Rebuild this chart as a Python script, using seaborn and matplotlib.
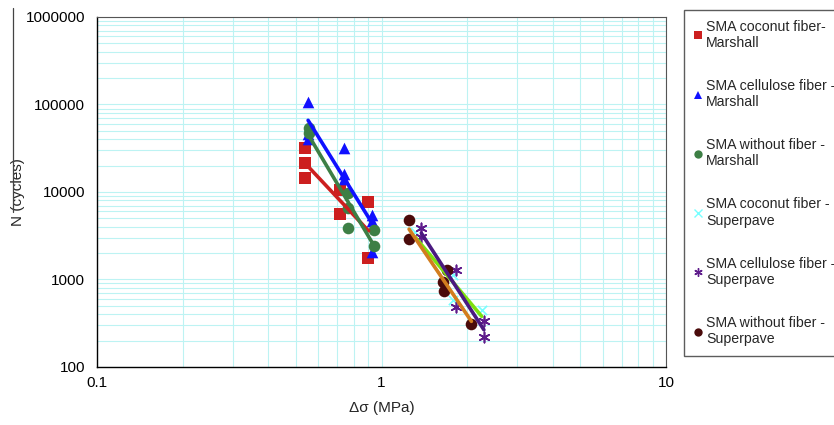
import numpy as np
import pandas as pd
import matplotlib
matplotlib.use("Agg")
import matplotlib.pyplot as plt
from matplotlib.lines import Line2D
from matplotlib.ticker import LogLocator, FixedLocator, FixedFormatter, NullFormatter
import seaborn as sns

# Data (stress range in MPa, N in cycles)
coco_marshall_x = [0.54, 0.54, 0.54, 0.715, 0.715, 0.90, 0.90]
coco_marshall_n = [31800, 21400, 14400, 10500, 5600, 7700, 1760]

cell_marshall_x = [0.552, 0.552, 0.552, 0.74, 0.74, 0.74, 0.926, 0.926, 0.926]
cell_marshall_n = [106000, 46000, 40000, 31500, 16000, 14000, 5400, 4700, 2050]

none_marshall_x = [0.555, 0.555, 0.76, 0.76, 0.76, 0.94, 0.94]
none_marshall_n = [54000, 47000, 9800, 6600, 3900, 3700, 2400]

coco_super_x = [1.31, 1.78, 1.78, 2.25]
coco_super_n = [3490, 1125, 583, 448]

cell_super_x = [1.38, 1.38, 1.83, 1.83, 2.29, 2.29]
cell_super_n = [3880, 3060, 1285, 486, 336, 220]

none_super_x = [1.25, 1.25, 1.70, 1.65, 1.66, 2.07]
none_super_n = [4790, 2900, 1285, 936, 740, 310]

labels = [
    "SMA coconut fiber-\nMarshall",
    "SMA cellulose fiber -\nMarshall",
    "SMA without fiber -\nMarshall",
    "SMA coconut fiber -\nSuperpave",
    "SMA cellulose fiber -\nSuperpave",
    "SMA without fiber -\nSuperpave",
]

series = [
    (coco_marshall_x, coco_marshall_n),
    (cell_marshall_x, cell_marshall_n),
    (none_marshall_x, none_marshall_n),
    (coco_super_x, coco_super_n),
    (cell_super_x, cell_super_n),
    (none_super_x, none_super_n),
]

# styling
marker_colors = ["#cc1f1f", "#1010ff", "#3d7f45", "#77ffff", "#5e1b8b", "#4a0b0b"]
line_colors = ["#cc1f1f", "#1010ff", "#3d7f45", "#7ee00f", "#4b1a80", "#d27d1e"]
markers = ["s", "^", "o", "x", (6, 2, 0), "o"]
sizes = [70, 70, 70, 45, 55, 70]

sns.set_style("white")
plt.rcParams["font.family"] = ["Liberation Sans", "DejaVu Sans"]

fig = plt.figure(figsize=(8.34, 4.25), dpi=100)
ax = fig.add_axes([0.1163, 0.1365, 0.6823, 0.8235])

handles = []
for i, (xs, ns) in enumerate(series):
    df = pd.DataFrame({"x": xs, "n": ns})
    sns.scatterplot(data=df, x="x", y="n", ax=ax, color=marker_colors[i],
                    marker=markers[i], s=sizes[i], linewidth=1.2 if i in (3, 4) else 0,
                    edgecolor=marker_colors[i], zorder=3, legend=False)
    # power-law trendline
    k, b = np.polyfit(np.log10(df["x"]), np.log10(df["n"]), 1)
    fx = np.linspace(df["x"].min(), df["x"].max(), 20)
    fit = pd.DataFrame({"x": fx, "n": 10 ** (b + k * np.log10(fx))})
    sns.lineplot(data=fit, x="x", y="n", ax=ax, color=line_colors[i],
                 linewidth=2.6, zorder=4, legend=False)
    handles.append(Line2D([], [], linestyle="none", marker=markers[i],
                          color=marker_colors[i], markeredgecolor=marker_colors[i],
                          markersize=6, markeredgewidth=1.0 if i in (3, 4) else 0))

ax.set_xscale("log")
ax.set_yscale("log")
ax.set_xlim(0.1, 10)
ax.set_ylim(100, 1000000)

ax.xaxis.set_major_locator(FixedLocator([0.1, 1, 10]))
ax.xaxis.set_major_formatter(FixedFormatter(["0.1", "1", "10"]))
ax.xaxis.set_minor_locator(LogLocator(base=10, subs=np.arange(2, 10)))
ax.xaxis.set_minor_formatter(NullFormatter())
ax.yaxis.set_major_locator(FixedLocator([100, 1000, 10000, 100000, 1000000]))
ax.yaxis.set_major_formatter(FixedFormatter(["100", "1000", "10000", "100000", "1000000"]))
ax.yaxis.set_minor_locator(LogLocator(base=10, subs=np.arange(2, 10)))
ax.yaxis.set_minor_formatter(NullFormatter())

ax.grid(True, which="both", color="#bdf3f3", linewidth=0.8)
ax.set_axisbelow(True)

ax.tick_params(axis="y", which="major", direction="out", length=5, width=1,
               labelsize=11, colors="black")
ax.tick_params(axis="x", which="major", direction="inout", length=7, width=1,
               labelsize=11, colors="black", pad=3)
ax.tick_params(which="minor", length=0)

for side in ["left", "bottom"]:
    ax.spines[side].set_color("black")
    ax.spines[side].set_linewidth(1.0)
for side in ["top", "right"]:
    ax.spines[side].set_color("#555555")
    ax.spines[side].set_linewidth(0.8)

ax.set_xlabel("Δσ (MPa)", fontsize=11, labelpad=8)
ax.set_ylabel("N (cycles)", fontsize=11)
ax.yaxis.set_label_coords(-0.127, 0.5)

leg = fig.legend(handles, labels, loc="upper left", bbox_to_anchor=(0.820, 0.977),
                 frameon=True, fancybox=False, edgecolor="#333333", fontsize=10.2,
                 labelspacing=2.05, handletextpad=0.25, handlelength=0.6,
                 borderpad=0.7, borderaxespad=0)
leg.get_frame().set_linewidth(1.0)

# stray rule on the left edge of the source image
fig.add_artist(Line2D([0.0155, 0.0155], [1 - 8 / 425, 1 - 212 / 425],
                      color="#444444", linewidth=0.9))

fig.savefig("out.png", dpi=100)
